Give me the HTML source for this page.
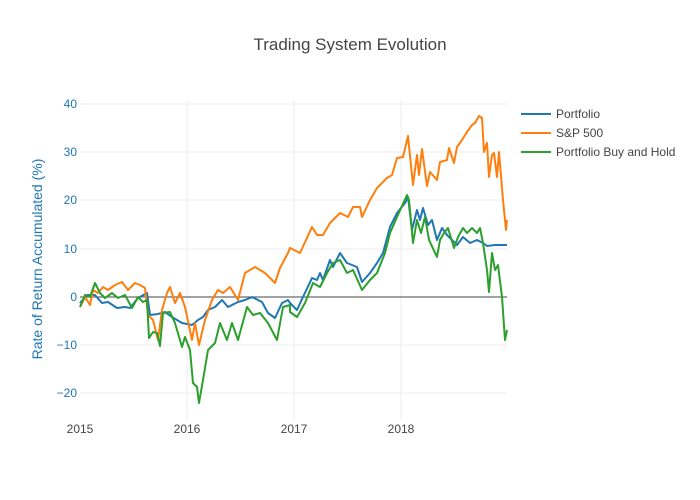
<!DOCTYPE html>
<html><head><meta charset="utf-8"><style>
body{margin:0;background:#fff}
svg{display:block;font-family:"Liberation Sans",sans-serif}
</style></head><body>
<svg width="700" height="500" viewBox="0 0 700 500">
<rect width="700" height="500" fill="#fff"/>
<g stroke="#eee" stroke-width="1">
<line x1="80" x2="507" y1="104" y2="104"/><line x1="80" x2="507" y1="152" y2="152"/>
<line x1="80" x2="507" y1="200" y2="200"/><line x1="80" x2="507" y1="249" y2="249"/>
<line x1="80" x2="507" y1="345" y2="345"/><line x1="80" x2="507" y1="393" y2="393"/>
<line x1="187" x2="187" y1="100" y2="420"/><line x1="294" x2="294" y1="100" y2="420"/>
<line x1="401" x2="401" y1="100" y2="420"/>
</g>
<line x1="80" x2="507" y1="297" y2="297" stroke="#444" stroke-width="1"/>
<g fill="none" stroke-width="2" stroke-linejoin="round">
<polyline stroke="#1f77b4" points="80,303 87,295 95,295 102,303 108,302 117,308 125,307 130,308 138,298 147,293 150,315 158,314 165,312 172,317 182,323 192,325 198,320 203,317 208,310 215,307 222,300 228,307 238,302 245,300 252,297 262,302 268,313 275,318 282,303 288,300 290,303 297,310 303,297 312,278 317,280 320,273 323,280 330,260 333,267 340,253 347,263 352,265 357,267 362,282 370,273 377,263 383,253 390,227 397,213 405,203 408,197 412,230 417,210 420,220 423,208 428,225 432,220 437,240 442,228 447,235 452,240 457,245 463,237 470,243 477,240 483,243 487,246 495,245 507,245"/>
<polyline stroke="#ff7f0e" points="80,307 85,297 90,305 93,290 98,293 103,287 108,290 115,285 122,282 128,290 135,283 140,285 145,288 148,315 153,320 158,340 162,310 167,293 170,287 175,303 180,293 185,307 192,340 195,323 199,345 205,320 212,300 218,290 223,293 230,287 238,300 245,273 255,267 265,273 275,283 280,268 288,253 290,248 300,253 312,227 317,235 323,235 330,223 340,213 348,217 353,207 360,207 362,217 370,200 377,188 387,178 392,175 397,158 403,157 408,136 413,185 417,155 419,175 422,149 427,186 430,172 437,180 440,162 447,160 449,148 454,163 457,147 462,140 467,132 472,125 475,123 479,116 482,118 484,152 487,143 489,177 492,155 494,153 497,177 499,152 503,200 506,230 507,220"/>
<polyline stroke="#2ca02c" points="80,307 85,295 90,297 95,283 100,293 105,298 112,293 118,298 125,295 132,308 138,297 143,302 147,300 149,338 153,332 157,333 160,346 163,313 170,312 175,323 182,347 185,337 190,350 193,383 197,387 199,403 203,380 208,350 215,343 220,323 227,340 232,323 238,340 247,307 253,315 260,313 268,323 277,340 283,307 290,305 290,312 297,317 305,303 313,283 320,287 327,273 333,263 340,260 347,273 353,270 362,290 370,280 377,273 385,253 390,233 397,217 407,195 409,200 413,243 417,220 421,233 425,217 429,240 437,257 440,240 444,233 448,228 454,248 458,237 463,228 467,233 472,228 477,233 480,228 483,243 487,270 489,292 492,253 495,270 498,265 502,297 505,340 507,330"/>
</g>
<g font-size="12" fill="#1f77b4" text-anchor="end">
<text x="77" y="108">40</text><text x="77" y="156">30</text><text x="77" y="204">20</text>
<text x="77" y="253">10</text><text x="77" y="301">0</text><text x="77" y="349">−10</text>
<text x="77" y="397">−20</text>
</g>
<g font-size="12" fill="#444" text-anchor="middle">
<text x="80" y="433">2015</text><text x="187" y="433">2016</text><text x="294" y="433">2017</text><text x="401" y="433">2018</text>
</g>
<text x="350" y="50" font-size="17" fill="#444" text-anchor="middle">Trading System Evolution</text>
<text transform="translate(42,259) rotate(-90)" font-size="14" fill="#1f77b4" text-anchor="middle">Rate of Return Accumulated (%)</text>
<g font-size="12" fill="#444">
<line x1="521" x2="551" y1="114" y2="114" stroke="#1f77b4" stroke-width="2"/><text x="556" y="118">Portfolio</text>
<line x1="521" x2="551" y1="133" y2="133" stroke="#ff7f0e" stroke-width="2"/><text x="556" y="137">S&amp;P 500</text>
<line x1="521" x2="551" y1="152" y2="152" stroke="#2ca02c" stroke-width="2"/><text x="556" y="156">Portfolio Buy and Hold</text>
</g>
</svg>
</body></html>
